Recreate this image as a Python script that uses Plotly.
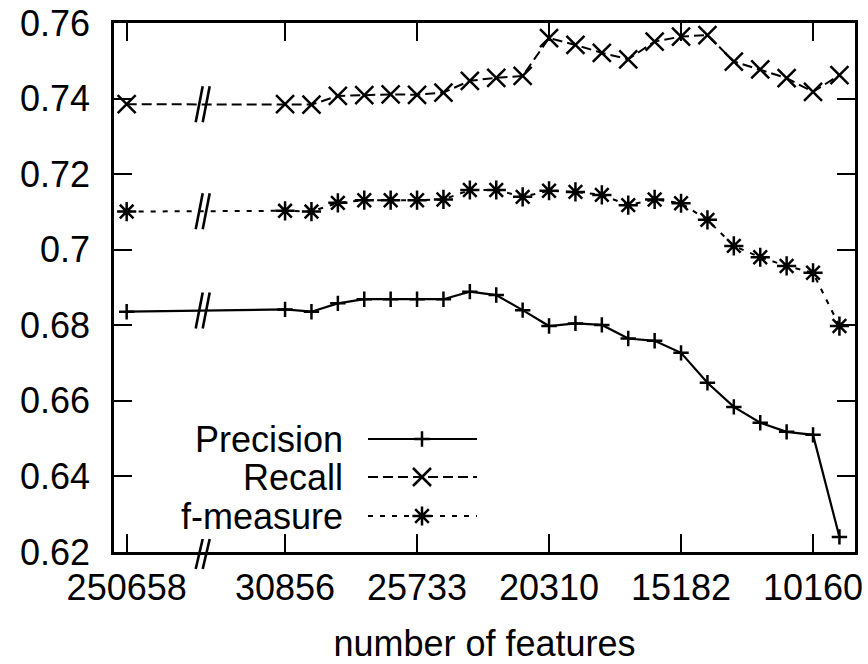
import numpy as np
import plotly.graph_objects as go

# ---- data ----
positions = [0, 6, 7, 8, 9, 10, 11, 12, 13, 14, 15, 16, 17, 18, 19, 20, 21, 22, 23, 24, 25, 26, 27]
precision = [0.6836, 0.6842, 0.6836, 0.6858, 0.6869, 0.6869, 0.6869, 0.6869, 0.6889, 0.6880, 0.6840,
             0.6798, 0.6805, 0.6801, 0.6765, 0.6759, 0.6727, 0.6648, 0.6584, 0.6542, 0.6518, 0.6510, 0.6240]
recall = [0.7385, 0.7385, 0.7384, 0.7407, 0.7409, 0.7411, 0.7410, 0.7416, 0.7447, 0.7455, 0.7460,
          0.7560, 0.7542, 0.7521, 0.7504, 0.7551, 0.7564, 0.7568, 0.7498, 0.7477, 0.7454, 0.7418, 0.7462]
fmeasure = [0.7101, 0.7103, 0.7101, 0.7124, 0.7131, 0.7131, 0.7131, 0.7133, 0.7158, 0.7158, 0.7140,
            0.7156, 0.7153, 0.7145, 0.7118, 0.7133, 0.7123, 0.7079, 0.7010, 0.6980, 0.6957, 0.6939, 0.6798]
tick_pos = [0, 6, 11, 16, 21, 26]
tick_text = ["250658", "30856", "25733", "20310", "15182", "10160"]
y_ticks = [0.62, 0.64, 0.66, 0.68, 0.70, 0.72, 0.74, 0.76]
y_text = ["0.62", "0.64", "0.66", "0.68", "0.7", "0.72", "0.74", "0.76"]

# ---- styles ----
FONT = "Liberation Sans, Arial, Helvetica, sans-serif"
FS = 36
XR = [-0.48, 27.59]
YR = [0.62, 0.76]
BREAK_X = 2.88

series = [
    ("Precision", precision, "solid", "cross-thin", 11, 2.2),
    ("Recall", recall, "10px,5px", "x-thin", 18, 2.0),
    ("f-measure", fmeasure, "5px,7px", "asterisk", 16, 2.0),
]

fig = go.Figure()
for name, vals, dash, sym, msize, lw in series:
    fig.add_trace(go.Scatter(
        x=positions, y=vals, mode="lines+markers", name=name, showlegend=False,
        line=dict(color="black", width=lw, dash=dash),
        marker=dict(symbol=sym, size=msize, color="black", line=dict(color="black", width=2.5)),
    ))

# axis-break marks on each curve
dx = 7 / 26.4
hy = 18 * (YR[1] - YR[0]) / 529
for name, vals, *_ in series:
    yb = float(np.interp(BREAK_X, positions, vals))
    for off in (-dx, 0):
        fig.add_shape(type="line", xref="x", yref="y",
                      x0=BREAK_X + off, y0=yb - hy, x1=BREAK_X + off + dx, y1=yb + hy,
                      line=dict(color="black", width=2.6))
# break mark on bottom axis
px = lambda v: (v - XR[0]) / (XR[1] - XR[0])
for off in (-dx, 0):
    fig.add_shape(type="line", xref="paper", yref="paper",
                  x0=px(BREAK_X + off), y0=-17 / 529, x1=px(BREAK_X + off + dx), y1=13 / 529,
                  line=dict(color="black", width=2.6))

# custom legend (text left of sample, like gnuplot)
leg_rows = [439, 477, 516]
for (name, vals, dash, sym, msize, lw), ly in zip(series, leg_rows):
    fig.add_trace(go.Scatter(
        x=[368, 477], y=[ly, ly], mode="lines", xaxis="x2", yaxis="y2", showlegend=False,
        line=dict(color="black", width=lw, dash=dash), hoverinfo="skip"))
    fig.add_trace(go.Scatter(
        x=[422], y=[ly], mode="markers", xaxis="x2", yaxis="y2", showlegend=False,
        marker=dict(symbol=sym, size=msize, color="black", line=dict(color="black", width=2.5)),
        hoverinfo="skip"))
    fig.add_annotation(x=345, y=ly, xref="x2", yref="y2", text=name, showarrow=False,
                       xanchor="right", yanchor="middle", font=dict(family=FONT, size=FS, color="black"))

axis_common = dict(showline=True, linecolor="black", linewidth=2.5, mirror="ticks",
                   ticks="inside", ticklen=18, tickwidth=2.2, tickcolor="black",
                   showgrid=False, zeroline=False, automargin=False,
                   tickfont=dict(family=FONT, size=FS, color="black"))

fig.update_layout(
    width=868, height=664,
    margin=dict(l=114, r=13, t=23, b=112),
    paper_bgcolor="white", plot_bgcolor="white",
    xaxis=dict(range=XR, tickmode="array", tickvals=tick_pos, ticktext=tick_text,
               ticklabelstandoff=2,
               title=dict(text="number of features", font=dict(family=FONT, size=FS, color="black"),
                          standoff=32),
               **axis_common),
    yaxis=dict(range=YR, tickmode="array", tickvals=y_ticks, ticktext=y_text,
               ticklabelstandoff=14, **axis_common),
    xaxis2=dict(range=[114, 855], overlaying="x", visible=False),
    yaxis2=dict(range=[552, 23], overlaying="y", visible=False),
)

fig.write_html("out.html", config={"displayModeBar": False},
               post_script="document.body.style.margin='0';document.body.style.overflow='hidden';")
